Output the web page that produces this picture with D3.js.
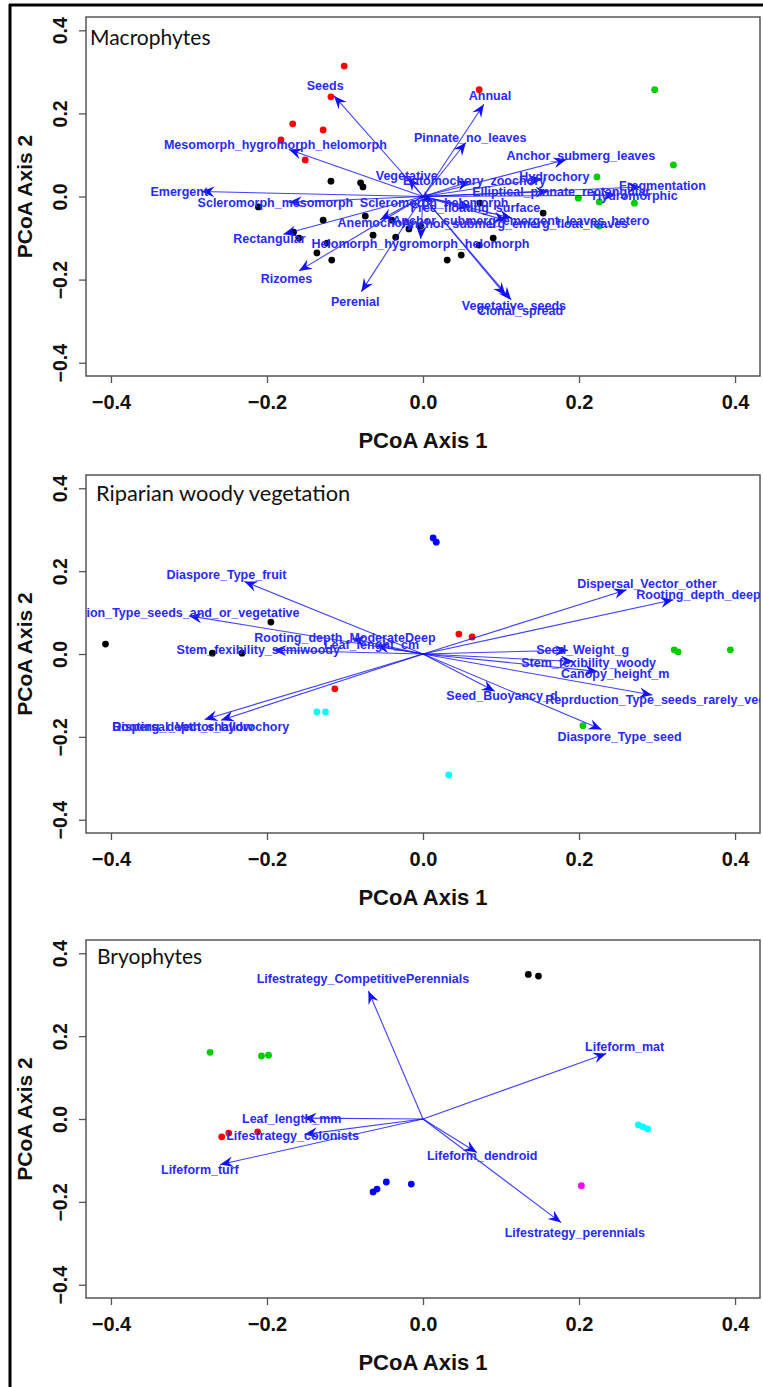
<!DOCTYPE html>
<html><head><meta charset="utf-8">
<script src="https://cdn.jsdelivr.net/npm/d3@7"></script>
<style>
html,body{margin:0;padding:0;background:#fff;}
svg{display:block;}
</style></head><body>
<svg id="fig" width="763" height="1387"></svg>
<script>
// ---------- Macrophytes ----------
const macroSiteX = [-0.101,-0.118,-0.167,-0.128,-0.182,-0.151,0.072,
  -0.118,-0.080,-0.077,-0.211,-0.074,-0.128,-0.166,-0.159,-0.123,-0.136,-0.117,-0.064,-0.035,-0.018,-0.003,-0.040,0.073,0.154,0.090,0.072,0.049,0.031,
  0.297,0.321,0.223,0.199,0.226,0.271,0.226];
const macroSiteY = [0.314,0.240,0.175,0.160,0.136,0.088,0.257,
  0.037,0.033,0.023,-0.025,-0.047,-0.057,-0.086,-0.100,-0.112,-0.136,-0.153,-0.093,-0.098,-0.078,-0.071,-0.057,-0.016,-0.040,-0.100,-0.117,-0.141,-0.153,
  0.257,0.076,0.047,-0.004,-0.013,-0.016,-0.071];
const macroSiteCluster = [2,2,2,2,2,2,2,
  1,1,1,1,1,1,1,1,1,1,1,1,1,1,1,1,1,1,1,1,1,1,
  3,3,3,3,3,3,3];
const macroTraitNames = ["Seeds","Mesomorph_hygromorph_helomorph","Emergent","Scleromorph_mesomorph",
  "Scleromorph_helomorph","Rectangular","Rizomes","Perenial","Helomorph_hygromorph_helomorph","Vegetative",
  "Annual","Pinnate_no_leaves","Anchor_submerg_leaves","Hydrochory","Entomochory_zoochory",
  "Elliptical_pinnate_rectangular","Fragmentation","Hydromorphic","Free_floating_surface","Anemochory",
  "Anchor_submerg_emergent_leaves_hetero","Anchor_submerg_emerg_float_leaves","Vegetative_seeds","Clonal_spread"];
const macroTraitX = [-0.114,-0.172,-0.284,-0.172,0.013,-0.179,-0.159,-0.079,-0.003,-0.019,
  0.078,0.055,0.184,0.153,0.060,0.161,0.279,0.247,0.061,-0.055,0.114,0.107,0.106,0.113];
const macroTraitY = [0.242,0.113,0.012,-0.014,-0.014,-0.091,-0.179,-0.229,-0.102,0.045,
  0.222,0.130,0.089,0.043,0.036,0.012,0.023,0.003,-0.025,-0.056,-0.052,-0.058,-0.238,-0.249];

// ---------- Riparian woody vegetation ----------
const riparSiteX = [0.013,0.017,-0.407,-0.195,-0.270,-0.232,-0.113,0.046,0.063,-0.136,-0.125,0.033,0.322,0.327,0.394,0.205];
const riparSiteY = [0.280,0.270,0.024,0.077,0.002,0.002,-0.084,0.048,0.041,-0.140,-0.140,-0.292,0.010,0.005,0.010,-0.173];
const riparSiteCluster = [4,4,1,1,1,1,2,2,2,5,5,5,3,3,3,3];
const riparTraitNames = ["Diaspore_Type_fruit","Reprduction_Type_seeds_and_or_vegetative","Rooting_depth_ModerateDeep",
  "Leaf_lenght_cm","Stem_fexibility_semiwoody","Rooting_depth_shallow","Dispersal_Vector_hydrochory",
  "Seed_Weight_g","Stem_fexibility_woody","Canopy_height_m","Seed_Buoyancy_d",
  "Reprduction_Type_seeds_rarely_vegetative","Diaspore_Type_seed","Dispersal_Vector_other","Rooting_depth_deep"];
const riparTraitX = [-0.229,-0.300,-0.091,-0.060,-0.192,-0.280,-0.259,0.186,0.193,0.224,0.092,0.294,0.229,0.261,0.321];
const riparTraitY = [0.175,0.092,0.037,0.020,0.009,-0.158,-0.160,0.009,-0.018,-0.042,-0.090,-0.099,-0.182,0.155,0.131];

// ---------- Bryophytes ----------
const bryoSiteX = [0.135,0.148,-0.273,-0.207,-0.198,-0.258,-0.249,-0.212,-0.064,-0.059,-0.047,-0.015,0.276,0.282,0.288,0.203];
const bryoSiteY = [0.349,0.345,0.161,0.152,0.154,-0.043,-0.034,-0.031,-0.176,-0.169,-0.152,-0.157,-0.014,-0.019,-0.024,-0.161];
const bryoSiteCluster = [1,1,3,3,3,2,2,2,4,4,4,4,5,5,5,6];
const bryoTraitNames = ["Lifestrategy_CompetitivePerennials","Lifeform_mat","Leaf_length_mm","Lifestrategy_colonists",
  "Lifeform_turf","Lifeform_dendroid","Lifestrategy_perennials"];
const bryoTraitX = [-0.070,0.235,-0.153,-0.152,-0.260,0.069,0.177];
const bryoTraitY = [0.309,0.158,0.002,-0.037,-0.110,-0.081,-0.250];

// ---------- shared axis settings ----------
const axisTicks = [-0.4,-0.2,0.0,0.2,0.4];
const axisRange = [-0.432,0.432];
const xTitle = "PCoA Axis 1";
const yTitle = "PCoA Axis 2";
const clusterColor = {1:"#000000",2:"#ff0000",3:"#00cd00",4:"#0000ff",5:"#00ffff",6:"#ff00ff"};

const panels = [
  {title:"Macrophytes", top:17, bottom:376, titleX:90, titleY:45, titleSize:21,
   sx:macroSiteX, sy:macroSiteY, sc:macroSiteCluster, tn:macroTraitNames, tx:macroTraitX, ty:macroTraitY},
  {title:"Riparian woody vegetation", top:475, bottom:833, titleX:96, titleY:501, titleSize:21.8,
   sx:riparSiteX, sy:riparSiteY, sc:riparSiteCluster, tn:riparTraitNames, tx:riparTraitX, ty:riparTraitY},
  {title:"Bryophytes", top:940, bottom:1298, titleX:97, titleY:964, titleSize:21,
   sx:bryoSiteX, sy:bryoSiteY, sc:bryoSiteCluster, tn:bryoTraitNames, tx:bryoTraitX, ty:bryoTraitY}
];

const svg = d3.select("#fig");
const left = 86, right = 760;
const AX_FONT = "'Liberation Sans', Arial, sans-serif";
const VEC_COL = "#1010ff", LAB_COL = "#2a2aff";

// filled, notched arrowhead ending at (x2, y2)
function arrowHead(x1,y1,x2,y2){
  const a = Math.atan2(y2-y1,x2-x1), L = 13, W = 5.4, N = 8.5;
  const ux = Math.cos(a), uy = Math.sin(a), px = -uy, py = ux;
  const bx = x2-L*ux, by = y2-L*uy;
  return `M${x2},${y2}L${bx+W*px},${by+W*py}L${x2-N*ux},${y2-N*uy}L${bx-W*px},${by-W*py}Z`;
}

panels.forEach((p,i) => {
  const x = d3.scaleLinear().domain(axisRange).range([left,right]);
  const y = d3.scaleLinear().domain(axisRange).range([p.bottom,p.top]);
  const g = svg.append("g");

  const clipId = "clip"+i;
  svg.append("clipPath").attr("id",clipId).append("rect")
    .attr("x",left).attr("y",p.top).attr("width",right-left).attr("height",p.bottom-p.top);

  // axes
  const xAxis = d3.axisBottom(x).tickValues(axisTicks).tickFormat(d3.format(".1f")).tickSize(7).tickSizeOuter(0);
  const gx = g.append("g").attr("transform",`translate(0,${p.bottom})`).call(xAxis);
  gx.select(".domain").remove();
  gx.selectAll(".tick line").attr("stroke","#555").attr("stroke-width",1.3);
  gx.selectAll(".tick text").attr("y",33).attr("dy",null)
    .attr("font-family",AX_FONT).attr("font-weight","bold").attr("font-size",20).attr("fill","#111");

  const yAxis = d3.axisLeft(y).tickValues(axisTicks).tickFormat(d3.format(".1f")).tickSize(7).tickSizeOuter(0);
  const gy = g.append("g").attr("transform",`translate(${left},0)`).call(yAxis);
  gy.select(".domain").remove();
  gy.selectAll(".tick line").attr("stroke","#555").attr("stroke-width",1.3);
  gy.selectAll(".tick text").attr("x",null).attr("dy",null).attr("text-anchor","middle")
    .attr("transform","translate(-19,0) rotate(-90)")
    .attr("font-family",AX_FONT).attr("font-weight","bold").attr("font-size",19.5).attr("fill","#111");

  // box
  g.append("rect").attr("x",left).attr("y",p.top).attr("width",right-left).attr("height",p.bottom-p.top)
    .attr("fill","none").attr("stroke","#555").attr("stroke-width",1.5);

  // axis titles
  g.append("text").attr("x",(left+right)/2).attr("y",p.bottom+72).attr("text-anchor","middle")
    .attr("font-family",AX_FONT).attr("font-weight","bold").attr("font-size",22).attr("fill","#111").text(xTitle);
  g.append("text").attr("transform",`translate(32,${(p.top+p.bottom)/2}) rotate(-90)`).attr("text-anchor","middle")
    .attr("font-family",AX_FONT).attr("font-weight","bold").attr("font-size",21).attr("fill","#111").text(yTitle);

  const plot = g.append("g").attr("clip-path",`url(#${clipId})`);

  // panel title
  plot.append("text").attr("x",p.titleX).attr("y",p.titleY)
    .attr("font-family","Lato, 'Open Sans', sans-serif").attr("font-size",p.titleSize).attr("fill","#111").text(p.title);

  // site scores
  plot.selectAll("circle.site").data(p.sx.map((v,k)=>[v,p.sy[k],p.sc[k]])).join("circle")
    .attr("class","site").attr("cx",d=>x(d[0])).attr("cy",d=>y(d[1])).attr("r",3.4)
    .attr("fill",d=>clusterColor[d[2]]);

  // trait vectors with labels at 1.1 times the vector length
  const x0 = x(0), y0 = y(0);
  const vec = p.tn.map((n,k)=>({name:n, vx:p.tx[k], vy:p.ty[k]}));
  plot.selectAll("line.vec").data(vec).join("line").attr("class","vec")
    .attr("x1",x0).attr("y1",y0).attr("x2",d=>x(d.vx)).attr("y2",d=>y(d.vy))
    .attr("stroke",VEC_COL).attr("stroke-width",1.1).attr("stroke-opacity",0.8);
  plot.selectAll("path.head").data(vec).join("path").attr("class","head")
    .attr("d",d=>arrowHead(x0,y0,x(d.vx),y(d.vy))).attr("fill",VEC_COL);
  plot.selectAll("text.lab").data(vec).join("text").attr("class","lab")
    .attr("x",d=>x(d.vx*1.1)).attr("y",d=>y(d.vy*1.1)).attr("dy","0.36em").attr("text-anchor","middle")
    .attr("font-family",AX_FONT).attr("font-weight","bold").attr("font-size",12.5).attr("fill",LAB_COL)
    .text(d=>d.name);
});

// outer frame
svg.append("line").attr("x1",9).attr("x2",763).attr("y1",5).attr("y2",5).attr("stroke","#000").attr("stroke-width",3);
svg.append("line").attr("x1",10).attr("x2",10).attr("y1",4).attr("y2",1387).attr("stroke","#000").attr("stroke-width",3);
</script>
</body></html>
